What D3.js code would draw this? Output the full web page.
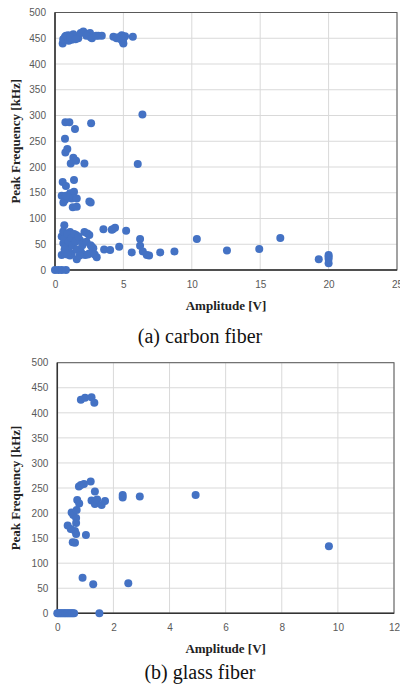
<!DOCTYPE html>
<html>
<head>
<meta charset="utf-8">
<script src="https://cdn.jsdelivr.net/npm/d3@7"></script>
<style>
  body { margin: 0; background: #fff; }
  .tick text { font-family: "Liberation Sans", Arial, sans-serif; font-size: 10px; fill: #595959; }
  .axis-title { font-family: "Liberation Serif", "Times New Roman", serif; font-size: 13px; font-weight: bold; fill: #222; }
  .caption { font-family: "Liberation Serif", "Times New Roman", serif; font-size: 20px; fill: #111; }
</style>
</head>
<body>
<div id="chart"></div>
<script>
// carbon fiber: [amplitude V, peak frequency kHz]
const carbonPoints = [
  [0.56,440],[0.73,453],[0.97,456],[1.22,447],[1.34,458],[1.7,450],[1.88,460],[2.07,463],
  [2.56,460],[2.61,452],[3.17,455],[3.42,455],[4.27,453],[4.63,452],[4.88,456],[4.96,443],
  [5.12,454],[5.69,453],[0.6,448],[0.8,455],[1.0,445],[1.1,452],[1.5,448],[2.3,455],
  [2.7,450],[3.0,455],[4.5,450],[4.8,448],[5.0,440],[5.0,450],
  [6.39,302],[0.76,287],[1.05,287],[1.46,274],[2.64,285],[0.73,255],[0.9,235],[0.76,228],
  [1.34,218],[1.15,207],[1.54,212],[2.15,207],[6.05,206],[0.56,171],[0.8,163],[1.39,175],
  [0.49,144],[0.73,136],[0.61,131],[1.1,149],[1.39,152],[1.22,139],[1.59,139],[0.97,141],
  [1.3,122],[1.59,123],[2.51,133],[2.61,131],[0.8,144],
  [0.68,87],[0.49,65],[0.61,52],[0.49,29],[0.73,32],[1.1,74],[1.22,32],[1.59,21],[1.54,68],
  [1.83,58],[2.15,74],[2.37,71],[2.51,68],[2.69,45],[2.8,42],[2.51,32],[2.2,29],[3.05,25],
  [3.54,79],[3.59,40],[4.03,39],[4.15,78],[4.39,82],[4.69,45],[5.2,76],[5.61,34],[6.22,60],
  [6.22,47],[6.42,36],[6.88,28],[7.69,34],[8.73,36],[10.37,60],[12.57,38],[14.93,41],
  [16.47,62],[19.28,21],[20,29],[20,26],[20,22],[20,13],
  [0.6,75],[0.7,60],[0.8,45],[0.9,70],[1.0,55],[1.0,38],[1.2,62],[1.3,48],[1.4,70],[1.5,55],
  [1.6,40],[1.7,65],[1.9,35],[2.0,48],[2.3,55],[2.4,30],[1.1,28],[0.9,30],[0.7,40],[1.8,28],
  [2.6,48],[2.9,30],[4.22,79],[6.71,29],
  [0,0],[0.25,0],[0.5,0],[0.8,0]
];

// glass fiber: [amplitude V, peak frequency kHz]
const glassPoints = [
  [0.84,426],[0.99,430],[1.22,431],[1.32,420],
  [0.37,175],[0.48,168],[0.63,164],[0.67,158],[0.55,142],[0.63,141],[1.02,156],[0.51,201],
  [0.57,196],[0.67,190],[0.69,206],[0.71,226],[0.78,219],[0.67,180],[0.77,253],[0.84,256],
  [0.95,258],[1.19,263],[1.34,243],[1.22,225],[1.34,218],[1.42,227],[1.58,216],[1.7,224],
  [2.33,236],[2.33,231],[2.94,233],[4.93,236],[9.68,134],
  [0.9,71],[1.28,58],[2.53,60],
  [0,0],[0.05,0],[0.1,0],[0.15,0],[0.2,0],[0.25,0],[0.3,0],[0.35,0],[0.4,0],[0.45,0],
  [0.5,0],[0.55,0],[0.6,0],[1.5,0]
];

const carbonXTicks = [0, 5, 10, 15, 20, 25];
const glassXTicks = [0, 2, 4, 6, 8, 10, 12];
const freqTicks = [0, 50, 100, 150, 200, 250, 300, 350, 400, 450, 500];

const width = 400, height = 690;
const svg = d3.select("#chart").append("svg")
  .attr("width", width)
  .attr("height", height);

function drawPanel(cfg) {
  const x = d3.scaleLinear().domain([0, cfg.xMax]).range([cfg.left, cfg.right]);
  const y = d3.scaleLinear().domain([0, 500]).range([cfg.bottom, cfg.top]);
  const g = svg.append("g");

  // gridlines
  g.append("g")
    .selectAll("line.gx")
    .data(cfg.xTicks)
    .enter().append("line")
    .attr("x1", d => x(d)).attr("x2", d => x(d))
    .attr("y1", cfg.top).attr("y2", cfg.bottom)
    .attr("stroke", "#d9d9d9").attr("stroke-width", 1);
  g.append("g")
    .selectAll("line.gy")
    .data(freqTicks)
    .enter().append("line")
    .attr("x1", cfg.left).attr("x2", cfg.right)
    .attr("y1", d => y(d)).attr("y2", d => y(d))
    .attr("stroke", "#d9d9d9").attr("stroke-width", 1);

  // frame
  g.append("rect")
    .attr("x", cfg.left).attr("y", cfg.top)
    .attr("width", cfg.right - cfg.left).attr("height", cfg.bottom - cfg.top)
    .attr("fill", "none").attr("stroke", "#595959").attr("stroke-width", 1);

  // axes (labels only)
  const xAxis = g.append("g")
    .attr("transform", `translate(0,${cfg.bottom})`)
    .call(d3.axisBottom(x).tickValues(cfg.xTicks).tickSize(0).tickPadding(11));
  xAxis.select(".domain").remove();

  const yAxis = g.append("g")
    .attr("transform", `translate(${cfg.left},0)`)
    .call(d3.axisLeft(y).tickValues(freqTicks).tickSize(0).tickPadding(9));
  yAxis.select(".domain").remove();

  // left & bottom axis lines darker
  g.append("line")
    .attr("x1", cfg.left).attr("x2", cfg.left)
    .attr("y1", cfg.top).attr("y2", cfg.bottom)
    .attr("stroke", "#333").attr("stroke-width", 1.5);
  g.append("line")
    .attr("x1", cfg.left).attr("x2", cfg.right)
    .attr("y1", cfg.bottom).attr("y2", cfg.bottom)
    .attr("stroke", "#333").attr("stroke-width", 1.5);

  // points
  g.append("g")
    .selectAll("circle")
    .data(cfg.data)
    .enter().append("circle")
    .attr("cx", d => x(d[0]))
    .attr("cy", d => y(d[1]))
    .attr("r", 4)
    .attr("fill", "#4472c4");

  // titles
  g.append("text")
    .attr("class", "axis-title")
    .attr("x", (cfg.left + cfg.right) / 2)
    .attr("y", cfg.bottom + 40)
    .attr("text-anchor", "middle")
    .text("Amplitude [V]");

  g.append("text")
    .attr("class", "axis-title")
    .attr("transform", `translate(20,${(cfg.top + cfg.bottom) / 2}) rotate(-90)`)
    .attr("text-anchor", "middle")
    .text("Peak Frequency [kHz]");

  g.append("text")
    .attr("class", "caption")
    .attr("x", 200)
    .attr("y", cfg.captionY)
    .attr("text-anchor", "middle")
    .text(cfg.caption);
}

drawPanel({
  data: carbonPoints, xMax: 25, xTicks: carbonXTicks,
  left: 55, right: 397, top: 12.5, bottom: 270,
  caption: "(a) carbon fiber", captionY: 343
});

drawPanel({
  data: glassPoints, xMax: 12, xTicks: glassXTicks,
  left: 57.3, right: 394, top: 362.7, bottom: 613.3,
  caption: "(b) glass fiber", captionY: 679
});
</script>
</body>
</html>
